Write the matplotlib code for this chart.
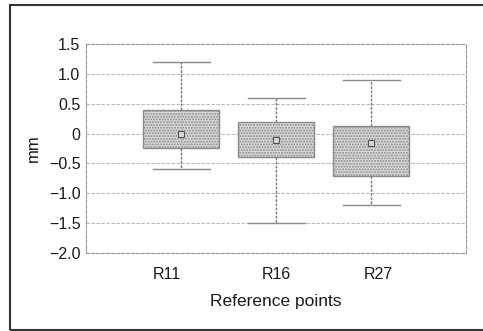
import matplotlib.pyplot as plt
from matplotlib.patches import Rectangle

# box statistics (mm)
labels = ["R11", "R16", "R27"]
whisker_hi = [1.2, 0.6, 0.9]
q3 = [0.40, 0.19, 0.13]
centre = [0.0, -0.10, -0.16]
q1 = [-0.24, -0.39, -0.71]
whisker_lo = [-0.6, -1.5, -1.2]

y_ticks = [1.5, 1.0, 0.5, 0, -0.5, -1.0, -1.5, -2.0]
y_tick_labels = ["1.5", "1.0", "0.5", "0", "\u22120.5", "\u22121.0", "\u22121.5", "\u22122.0"]

plt.rcParams["font.family"] = ["Liberation Sans", "DejaVu Sans"]
plt.rcParams["hatch.color"] = "#c4c4c4"

fig = plt.figure(figsize=(4.83, 3.31), dpi=100)
ax = fig.add_axes([86 / 483, 1 - 253 / 331, 380 / 483, 209 / 331])

stats = []
for i in range(len(labels)):
    stats.append({
        "label": labels[i],
        "whishi": whisker_hi[i],
        "q3": q3[i],
        "med": centre[i],
        "mean": centre[i],
        "q1": q1[i],
        "whislo": whisker_lo[i],
        "fliers": [],
    })

ax.bxp(stats, positions=[1, 2, 3], widths=0.8, patch_artist=True,
       showmeans=True, showcaps=True,
       boxprops=dict(facecolor="#dcdcdc", edgecolor="#8a8a8a", linewidth=1.0, hatch="......"),
       medianprops=dict(linewidth=0),
       whiskerprops=dict(color="#7a7a7a", linewidth=1.0, linestyle=(0, (2, 1))),
       capprops=dict(color="#8a8a8a", linewidth=1.0),
       capwidths=0.6,
       meanprops=dict(marker="s", markersize=4, markerfacecolor="#d8d8d8",
                      markeredgecolor="#555555", markeredgewidth=0.8))

ax.set_xlim(0, 4)
ax.set_ylim(-2.0, 1.5)
# the category labels in the original sit a little off the box centres
ax.set_xticks([0.85, 2.0, 3.08])
ax.set_xticklabels(labels)
ax.set_yticks(y_ticks)
ax.set_yticklabels(y_tick_labels)
ax.tick_params(axis="both", length=0, labelsize=11.5, colors="#1a1a1a", pad=4)
ax.tick_params(axis="x", pad=10)
ax.yaxis.grid(True, color="#b8b8b8", linestyle=(0, (3, 1.5)), linewidth=0.8)
ax.set_axisbelow(True)
for s in ax.spines.values():
    s.set_color("#9a9a9a")
    s.set_linestyle((0, (3, 1.5)))
    s.set_linewidth(0.8)

ax.set_ylabel("mm", fontsize=12, color="#1a1a1a", labelpad=6)
ax.set_xlabel("Reference points", fontsize=12.5, color="#1a1a1a", labelpad=9)

# outer frame around the figure (right edge runs off the image)
fig.patches.append(Rectangle((10 / 483, 1 / 331), 490 / 483, 325 / 331,
                             transform=fig.transFigure, fill=False,
                             edgecolor="#333333", linewidth=1.5))

fig.savefig("out.png", dpi=100)
